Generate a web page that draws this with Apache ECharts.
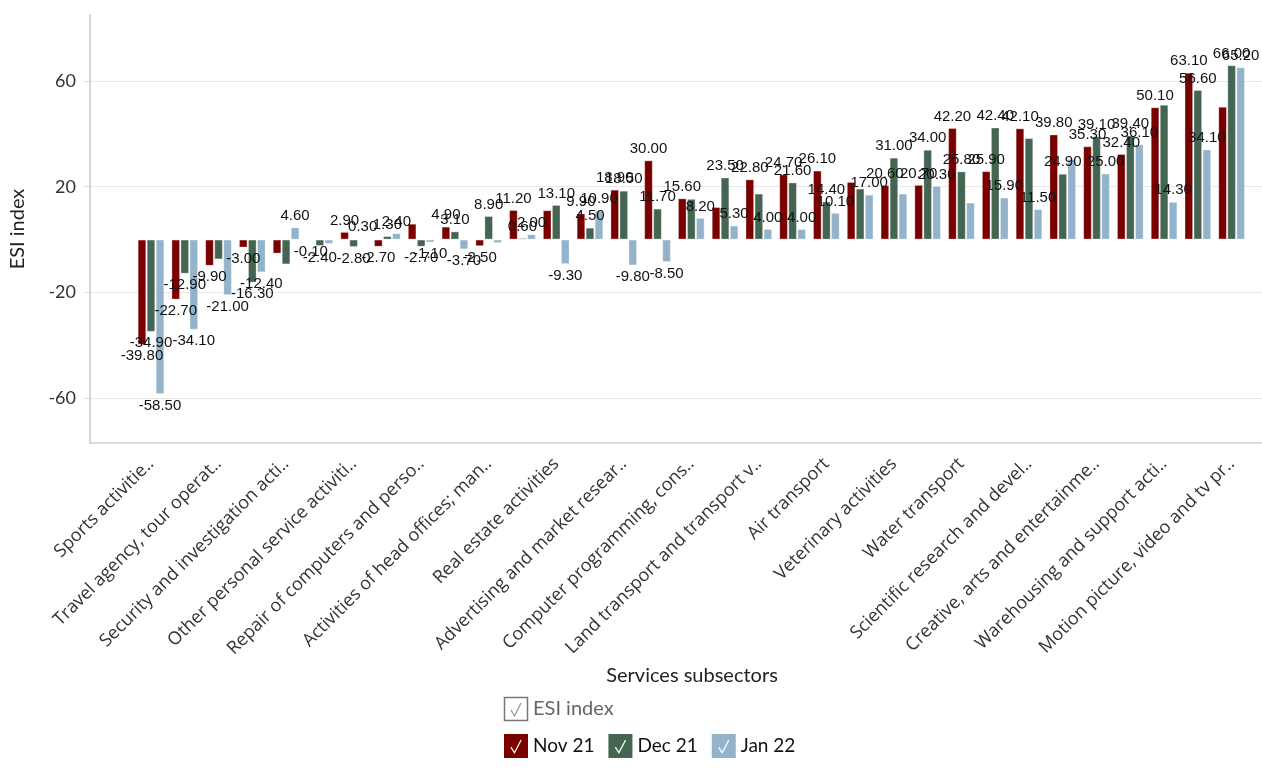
<!DOCTYPE html>
<html lang="en">

<head>
  <meta charset="UTF-8">
  <meta name="viewport" content="width=device-width, initial-scale=1.0">
  <title>ESI index by services subsector</title>
  <script src="https://cdn.jsdelivr.net/npm/echarts@6/dist/echarts.min.js"></script>
  <style>
    * {
      padding: 0;
      margin: 0;
    }

    #main {
      width: 1262px;
      height: 774px;
    }
  </style>
</head>

<body>
  <div id="main"></div>
  <script>
    // 33 subsectors sorted by their mean; the axis only prints every other name
    var tickLabels = [
      'Sports activitie..', 'Travel agency, tour operat..', 'Security and investigation acti..',
      'Other personal service activiti..', 'Repair of computers and perso..', 'Activities of head offices; man..',
      'Real estate activities', 'Advertising and market resear..', 'Computer programming, cons..',
      'Land transport and transport v..', 'Air transport', 'Veterinary activities', 'Water transport',
      'Scientific research and devel..', 'Creative, arts and entertainme..', 'Warehousing and support acti..',
      'Motion picture, video and tv pr..'
    ];
    var yTicks = [-60, -20, 20, 60];

    var nov21 = [-39.8, -22.7, -9.9, -3.0, -5.3, -0.1, 2.9, -2.7, 6.0, 4.9, -2.5, 11.2, 11.1, 9.9, 18.9, 30.0, 15.6,
      12.3, 22.8, 24.7, 26.1, 21.8, 20.6, 20.7, 42.2, 25.9, 42.1, 39.8, 35.3, 32.4, 50.1, 63.1, 50.3];
    var dec21 = [-34.9, -12.9, -7.5, -16.3, -9.4, -2.4, -2.8, 1.3, -2.7, 3.1, 8.9, 0.6, 13.1, 4.5, 18.5, 11.7, 15.4,
      23.5, 17.4, 21.6, 14.4, 19.3, 31.0, 34.0, 25.8, 42.4, 38.4, 24.9, 39.1, 39.4, 51.0, 56.6, 66.0];
    var jan22 = [-58.5, -34.1, -21.0, -12.4, 4.6, -1.6, 0.3, 2.4, -1.1, -3.7, -1.3, 2.0, -9.3, 10.9, -9.8, -8.5, 8.2,
      5.3, 4.0, 4.0, 10.1, 17.0, 17.4, 20.3, 14.0, 15.9, 11.5, 30.5, 25.0, 36.1, 14.3, 34.1, 65.2];

    // bars whose value is not printed in the source chart
    var noLabelNov = [4, 8, 12, 17, 21, 32];
    var noLabelDec = [2, 4, 16, 18, 21, 26, 30];
    var noLabelJan = [5, 10, 22, 24, 27];

    var chartDom = document.getElementById('main');
    var myChart = echarts.init(chartDom);
    var option;

    var checkIcon = 'path://M0,0L24,0L24,24L0,24Z M6.4,13.4L10.5,20L17.7,6.3L16.6,5.8L10.4,17.6L7.4,12.7Z';

    function toBars(values, skip) {
      return values.map(function (v, i) {
        return {
          value: [i, v],
          label: { show: skip.indexOf(i) < 0, position: v < 0 ? 'bottom' : 'top' }
        };
      });
    }

    function barSeries(name, color, values, skip) {
      return {
        name: name,
        type: 'bar',
        barWidth: 8.6,
        barGap: '5%',
        itemStyle: { color: color, borderColor: 'rgba(255,255,255,0.3)', borderWidth: 1 },
        label: {
          fontFamily: 'Liberation Sans',
          fontSize: 15,
          color: '#111',
          distance: 4,
          formatter: function (p) {
            return p.value[1].toFixed(2);
          }
        },
        data: toBars(values, skip)
      };
    }

    option = {
      animation: false,
      grid: {
        left: 90,
        right: 0,
        top: 15,
        bottom: 331,
        outerBoundsMode: 'none'
      },
      legend: {
        left: 504,
        top: 734,
        padding: 0,
        itemWidth: 24,
        itemHeight: 24,
        itemGap: 14,
        icon: checkIcon,
        itemStyle: { borderWidth: 0 },
        textStyle: { fontFamily: 'Lato', fontSize: 19, color: '#111' },
        data: ['Nov 21', 'Dec 21', 'Jan 22']
      },
      graphic: [
        {
          type: 'rect',
          shape: { x: 504.5, y: 697.5, width: 23, height: 23 },
          style: { fill: '#fff', stroke: '#777', lineWidth: 1.5 }
        },
        {
          type: 'polyline',
          shape: { points: [[511, 710], [514.5, 716], [521, 703]] },
          style: { stroke: '#999', lineWidth: 1.3, fill: null }
        },
        {
          type: 'text',
          x: 533,
          y: 709,
          style: {
            text: 'ESI index', fontFamily: 'Lato', fontSize: 20, fill: '#666',
            verticalAlign: 'middle'
          }
        }
      ],
      xAxis: {
        type: 'value',
        min: -1.806,
        max: 32.9,
        name: 'Services subsectors',
        nameLocation: 'middle',
        nameGap: 220,
        nameTextStyle: { fontFamily: 'Lato', fontSize: 20, color: '#222', padding: [0, 0, 0, 32] },
        axisLine: { show: true, onZero: false, lineStyle: { color: '#cfcfcf', width: 1.5 } },
        axisTick: { show: false },
        splitLine: { show: false },
        axisLabel: {
          customValues: tickLabels.map(function (t, i) { return i * 2; }),
          formatter: function (v) {
            return tickLabels[Math.round(v / 2)];
          },
          rotate: 45,
          margin: 18,
          fontFamily: 'Open Sans',
          fontSize: 18,
          color: '#333'
        }
      },
      yAxis: {
        type: 'value',
        min: -77,
        max: 85,
        name: 'ESI index',
        nameLocation: 'middle',
        nameGap: 62,
        nameTextStyle: { fontFamily: 'Lato', fontSize: 20, color: '#222' },
        axisLine: { show: true, onZero: false, lineStyle: { color: '#d4d4d4', width: 2 } },
        axisTick: { show: true, length: 6, customValues: yTicks, lineStyle: { color: '#dddddd' } },
        splitLine: { show: true, lineStyle: { color: '#e8e8e8', width: 1 } },
        axisLabel: {
          customValues: yTicks,
          margin: 14,
          fontFamily: 'Lato',
          fontSize: 18,
          color: '#333'
        }
      },
      series: [
        barSeries('Nov 21', '#7a0000', nov21, noLabelNov),
        barSeries('Dec 21', '#446552', dec21, noLabelDec),
        barSeries('Jan 22', '#93b3ca', jan22, noLabelJan)
      ]
    };

    option && myChart.setOption(option);
  </script>
</body>

</html>
